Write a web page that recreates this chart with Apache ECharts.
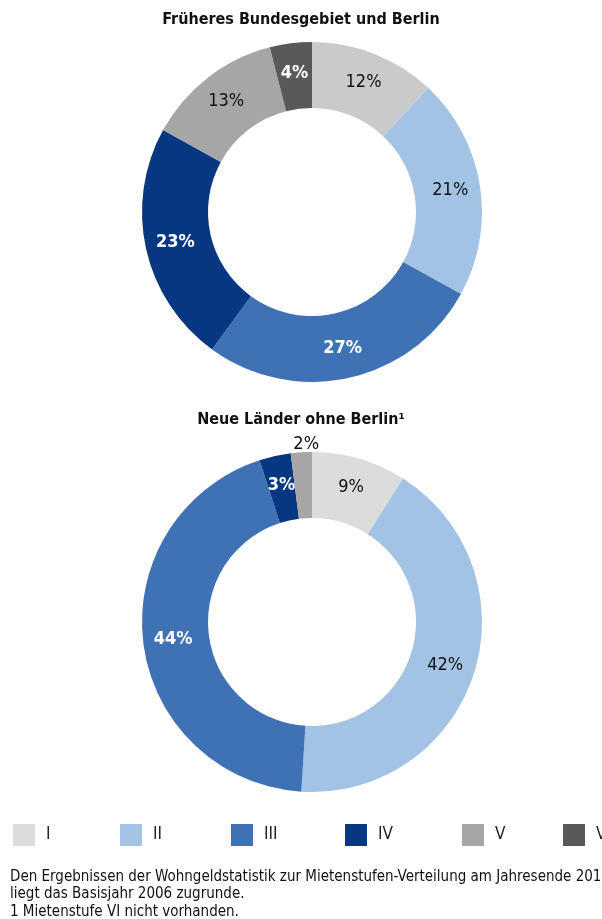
<!DOCTYPE html>
<html>
<head>
<meta charset="utf-8">
<script src="https://cdn.jsdelivr.net/npm/echarts@6/dist/echarts.min.js"></script>
<style>
  html, body { margin: 0; padding: 0; background: #fff; }
  #main { width: 602px; height: 919px; }
</style>
</head>
<body>
<div id="main"></div>
<script>
// Mietenstufen
const stufen = ['I', 'II', 'III', 'IV', 'V', 'VI'];
// Früheres Bundesgebiet und Berlin (Anteil in %)
const westWerte = [12, 21, 27, 23, 13, 4];
// Neue Länder ohne Berlin (Anteil in %), Stufe VI nicht vorhanden
const ostWerte = [9, 42, 44, 3, 2];

const titelWest = 'Früheres Bundesgebiet und Berlin';
const titelOst = 'Neue Länder ohne Berlin¹';
const fussnote = [
  'Den Ergebnissen der Wohngeldstatistik zur Mietenstufen-Verteilung am Jahresende 2010',
  'liegt das Basisjahr 2006 zugrunde.',
  '1 Mietenstufe VI nicht vorhanden.'
];

const farbenWest = ['#cacaca', '#a3c3e4', '#3f72b5', '#063780', '#a6a6a6', '#595959'];
const farbenOst = ['#dcdcdc', '#a3c3e4', '#3f72b5', '#063780', '#a6a6a6', '#595959'];
const dunkel = [false, false, true, true, false, true];
const legendeLinks = [13, 120, 231, 345, 462, 563];

const schrift = '"Liberation Sans Narrow", "DejaVu Sans Condensed", "Liberation Sans", sans-serif';

function baueDaten(werte, farben) {
  return werte.map((v, i) => {
    let label = {
      color: dunkel[i] ? '#fff' : '#111',
      fontWeight: dunkel[i] ? 600 : 'normal'
    };
    return { name: stufen[i], value: v, itemStyle: { color: farben[i] }, label: label };
  });
}

let ostDaten = baueDaten(ostWerte, farbenOst);
// kleiner Anteil: Beschriftung oberhalb des Rings
ostDaten[4].label.offset = [3, -38];

const chart = echarts.init(document.getElementById('main'));

const pieBasis = {
  type: 'pie',
  radius: [104, 170],
  startAngle: 90,
  clockwise: true,
  avoidLabelOverlap: false,
  silent: true,
  label: {
    show: true,
    position: 'inside',
    formatter: '{c}%',
    fontSize: 18,
    fontFamily: schrift
  },
  labelLine: { show: false },
  emphasis: { disabled: true }
};

chart.setOption({
  animation: false,
  textStyle: { fontFamily: schrift },
  title: [
    {
      text: titelWest, left: 'center', top: 7,
      textStyle: { fontSize: 16, fontWeight: 'bold', color: '#111', fontFamily: schrift }
    },
    {
      text: titelOst, left: 'center', top: 407,
      textStyle: { fontSize: 16, fontWeight: 'bold', color: '#111', fontFamily: schrift }
    }
  ],
  legend: stufen.map((s, i) => ({
    data: [{ name: s, itemStyle: { color: farbenOst[i] } }],
    left: legendeLinks[i],
    top: 824,
    padding: 0,
    icon: 'rect',
    itemWidth: 22,
    itemHeight: 22,
    itemGap: 0,
    selectedMode: false,
    textStyle: { fontSize: 17, color: '#222', fontFamily: schrift, padding: [0, 0, 0, 6] }
  })),
  series: [
    Object.assign({}, pieBasis, {
      name: titelWest,
      center: [312, 212],
      data: baueDaten(westWerte, farbenWest)
    }),
    Object.assign({}, pieBasis, {
      name: titelOst,
      center: [312, 622],
      data: ostDaten
    })
  ],
  graphic: [
    {
      type: 'text',
      left: 10,
      top: 868,
      style: {
        text: fussnote.join('\n'),
        fontSize: 15,
        lineHeight: 17.5,
        fill: '#111',
        fontFamily: schrift
      }
    }
  ]
});
</script>
</body>
</html>
